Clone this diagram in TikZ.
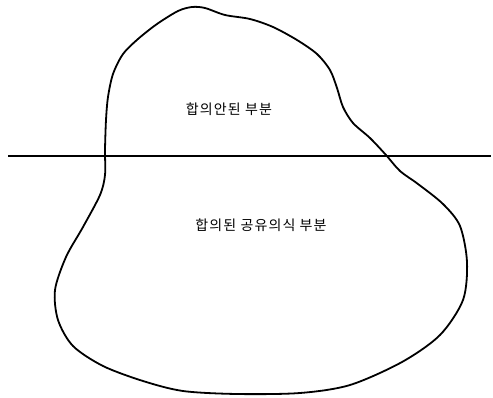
\documentclass[tikz,border=0pt]{standalone}
\usepackage{fontspec}
\newfontfamily\kr{Noto Sans CJK KR}[LetterSpace=8]
\usetikzlibrary{positioning}

\begin{document}
\begin{tikzpicture}[x=1pt, y=-1pt,
  blob/.style={line width=1.8pt, line join=round},
  level/.style={line width=1.3pt},
  lbl/.style={font=\kr\fontsize{14}{16}\selectfont, inner sep=0pt},
]
\useasboundingbox (0,0) rectangle (493,397);

% the outline
\draw[blob] plot[smooth cycle, tension=0.5] coordinates {
  (105,150) (106,120) (108,97) (113,74) (123,54) (138,39) (157,24)
  (178,11) (192,7) (205,8) (225,15) (250,19) (273,27) (297,40)
  (317,54) (330,70) (337,88) (343,107) (353,123) (370,138) (386,155)
  (400,171) (418,184) (443,204) (460,226) (467,262) (463,300)
  (440,335) (402,362) (350,385) (300,393) (237,394) (183,391)
  (143,381) (103,366) (73,346) (58,320) (55,290) (66,257) (83,227)
  (100,195) (105,175)};

% the level line
\coordinate (lvlL) at (8,156);
\coordinate (lvlR) at (491,156);
\draw[level] (lvlL) -- (lvlR);

% labels
\node[lbl] (upper) at (229,109) {합의안된 부분};
\node[lbl] (lower) at (261,225) {합의된 공유의식 부분};
\end{tikzpicture}
\end{document}
